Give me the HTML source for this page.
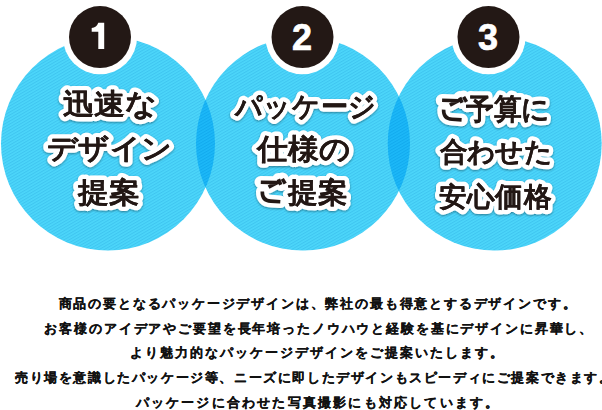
<!DOCTYPE html>
<html lang="ja">
<head>
<meta charset="utf-8">
<style>
html,body{margin:0;padding:0;background:#fff;}
body{width:602px;height:410px;overflow:hidden;position:relative;font-family:"Liberation Sans",sans-serif;}
svg{position:absolute;left:0;top:0;}
.b{position:absolute;left:16.5px;width:602px;margin:0;text-align:center;font-size:13px;font-weight:bold;color:#111;letter-spacing:1.82px;line-height:20px;white-space:nowrap;-webkit-text-stroke:0.2px #111;}
</style>
</head>
<body>
<svg width="602" height="410" viewBox="0 0 602 410">
<defs>
<pattern id="st" patternUnits="userSpaceOnUse" width="10" height="2.6" patternTransform="rotate(-30)">
<rect width="10" height="2.6" fill="#4cd6fa"/>
<rect width="10" height="1.0" fill="#3fc5f0"/>
</pattern>
<pattern id="st2" patternUnits="userSpaceOnUse" width="10" height="2.6" patternTransform="rotate(-30)">
<rect width="10" height="2.6" fill="#1cb8f8"/>
<rect width="10" height="1.0" fill="#12aaee"/>
</pattern>
<clipPath id="k1"><circle cx="108" cy="143.6" r="107"/></clipPath>
<clipPath id="k2"><circle cx="303" cy="143.6" r="107"/></clipPath>
<filter id="sh" x="-20%" y="-30%" width="140%" height="160%">
<feGaussianBlur in="SourceAlpha" stdDeviation="1.3"/>
<feOffset dx="0.3" dy="0.8"/>
<feComponentTransfer><feFuncA type="linear" slope="0.4"/></feComponentTransfer>
<feMerge><feMergeNode/><feMergeNode in="SourceGraphic"/></feMerge>
</filter>
</defs>
<circle cx="108" cy="143.6" r="107" fill="url(#st)"/>
<circle cx="303" cy="143.6" r="107" fill="url(#st)"/>
<circle cx="494.7" cy="143.6" r="107" fill="url(#st)"/>
<g clip-path="url(#k1)"><circle cx="303" cy="143.6" r="107" fill="url(#st2)"/></g>
<g clip-path="url(#k2)"><circle cx="494.7" cy="143.6" r="107" fill="url(#st2)"/></g>
<g fill="#fff"><circle cx="100" cy="37.1" r="37.1"/><circle cx="302.5" cy="37.1" r="37.1"/><circle cx="488.5" cy="37.1" r="37.1"/></g>
<g fill="#231815"><circle cx="100" cy="37.1" r="31.0"/><circle cx="302.5" cy="37.1" r="31.0"/><circle cx="488.5" cy="37.1" r="31.0"/></g>
<g fill="#fff" stroke="#fff" stroke-width="0.7" font-family="Liberation Sans" font-weight="bold" font-size="36">
<text transform="translate(302 49.6) scale(1 1)" text-anchor="middle">2</text><text transform="translate(488 49.6) scale(1 1)" text-anchor="middle">3</text>
<path stroke="none" d="M98.3 22.8L104.2 22.8L104.2 49.1L98.3 49.1L98.3 31.7L91.7 31.7L91.7 28Q96.6 27.6 98.3 22.8Z"/>
</g>
<g font-weight="bold" text-anchor="middle" fill="#fff" stroke="#fff" stroke-width="9" stroke-linejoin="round" filter="url(#sh)">
<text transform="translate(109.8 114) scale(1.071 1)" font-size="29">迅速な</text><text transform="translate(109.6 158) scale(1.078 1)" font-size="28">デザイン</text><text transform="translate(108.7 202) scale(1.101 1)" font-size="28">提案</text><text transform="translate(305.75 116) scale(0.97 1)" font-size="28">パッケージ</text><text transform="translate(304.0 159) scale(1.061 1)" font-size="29">仕様の</text><text transform="translate(303 202) scale(1.061 1)" font-size="28.5">　提案</text><text transform="translate(494.25 119) scale(0.959 1)" font-size="28.5">　予算に</text><text transform="translate(495.75 161) scale(1.027 1)" font-size="27">合わせた</text><text transform="translate(495.2 206) scale(1.025 1)" font-size="27.5">安心価格</text>
<path transform="translate(260.8 182.2)" d="M0 0L16.5 0.4Q12 2.6 7.8 4.9M1.5 9.3Q1.2 18.6 10 18.9L19.5 19.6M17.6 -2.9L20 2.5M21.5 -3.4L24.4 1.5" fill="none" stroke="#fff" stroke-width="12.6" stroke-linecap="round" stroke-linejoin="round"/><path transform="translate(442.1 100.3)" d="M0 0L16.5 0.4Q12 2.6 7.8 4.9M1.5 9.3Q1.2 18.6 10 18.9L19.5 19.6M17.6 -2.9L20 2.5M21.5 -3.4L24.4 1.5" fill="none" stroke="#fff" stroke-width="12.6" stroke-linecap="round" stroke-linejoin="round"/>
</g>
<g font-weight="bold" text-anchor="middle" fill="#231815" stroke="#231815" stroke-width="0.1" stroke-linejoin="round">
<text transform="translate(109.8 114) scale(1.071 1)" font-size="29">迅速な</text><text transform="translate(109.6 158) scale(1.078 1)" font-size="28">デザイン</text><text transform="translate(108.7 202) scale(1.101 1)" font-size="28">提案</text><text transform="translate(305.75 116) scale(0.97 1)" font-size="28">パッケージ</text><text transform="translate(304.0 159) scale(1.061 1)" font-size="29">仕様の</text><text transform="translate(303 202) scale(1.061 1)" font-size="28.5">　提案</text><text transform="translate(494.25 119) scale(0.959 1)" font-size="28.5">　予算に</text><text transform="translate(495.75 161) scale(1.027 1)" font-size="27">合わせた</text><text transform="translate(495.2 206) scale(1.025 1)" font-size="27.5">安心価格</text>
<path transform="translate(260.8 182.2)" d="M0 0L16.5 0.4Q12 2.6 7.8 4.9M1.5 9.3Q1.2 18.6 10 18.9L19.5 19.6M17.6 -2.9L20 2.5M21.5 -3.4L24.4 1.5" fill="none" stroke="#231815" stroke-width="3.6" stroke-linecap="butt" stroke-linejoin="round"/><path transform="translate(442.1 100.3)" d="M0 0L16.5 0.4Q12 2.6 7.8 4.9M1.5 9.3Q1.2 18.6 10 18.9L19.5 19.6M17.6 -2.9L20 2.5M21.5 -3.4L24.4 1.5" fill="none" stroke="#231815" stroke-width="3.6" stroke-linecap="butt" stroke-linejoin="round"/>
</g>
</svg>
<p class="b" style="top:293.5px;left:17px;letter-spacing:1.82px">商品の要となるパッケージデザインは、弊社の最も得意とするデザインです。</p><p class="b" style="top:319px;left:18.3px;letter-spacing:1.86px">お客様のアイデアやご要望を長年培ったノウハウと経験を基にデザインに昇華し、</p><p class="b" style="top:342.5px;left:16.5px;letter-spacing:2.0px">より魅力的なパッケージデザインをご提案いたします。</p><p class="b" style="top:367.5px;left:13.3px;letter-spacing:1.6px">売り場を意識したパッケージ等、ニーズに即したデザインもスピーディにご提案できます。</p><p class="b" style="top:392.5px;left:17.0px;letter-spacing:2.19px">パッケージに合わせた写真撮影にも対応しています。</p>
</body>
</html>
